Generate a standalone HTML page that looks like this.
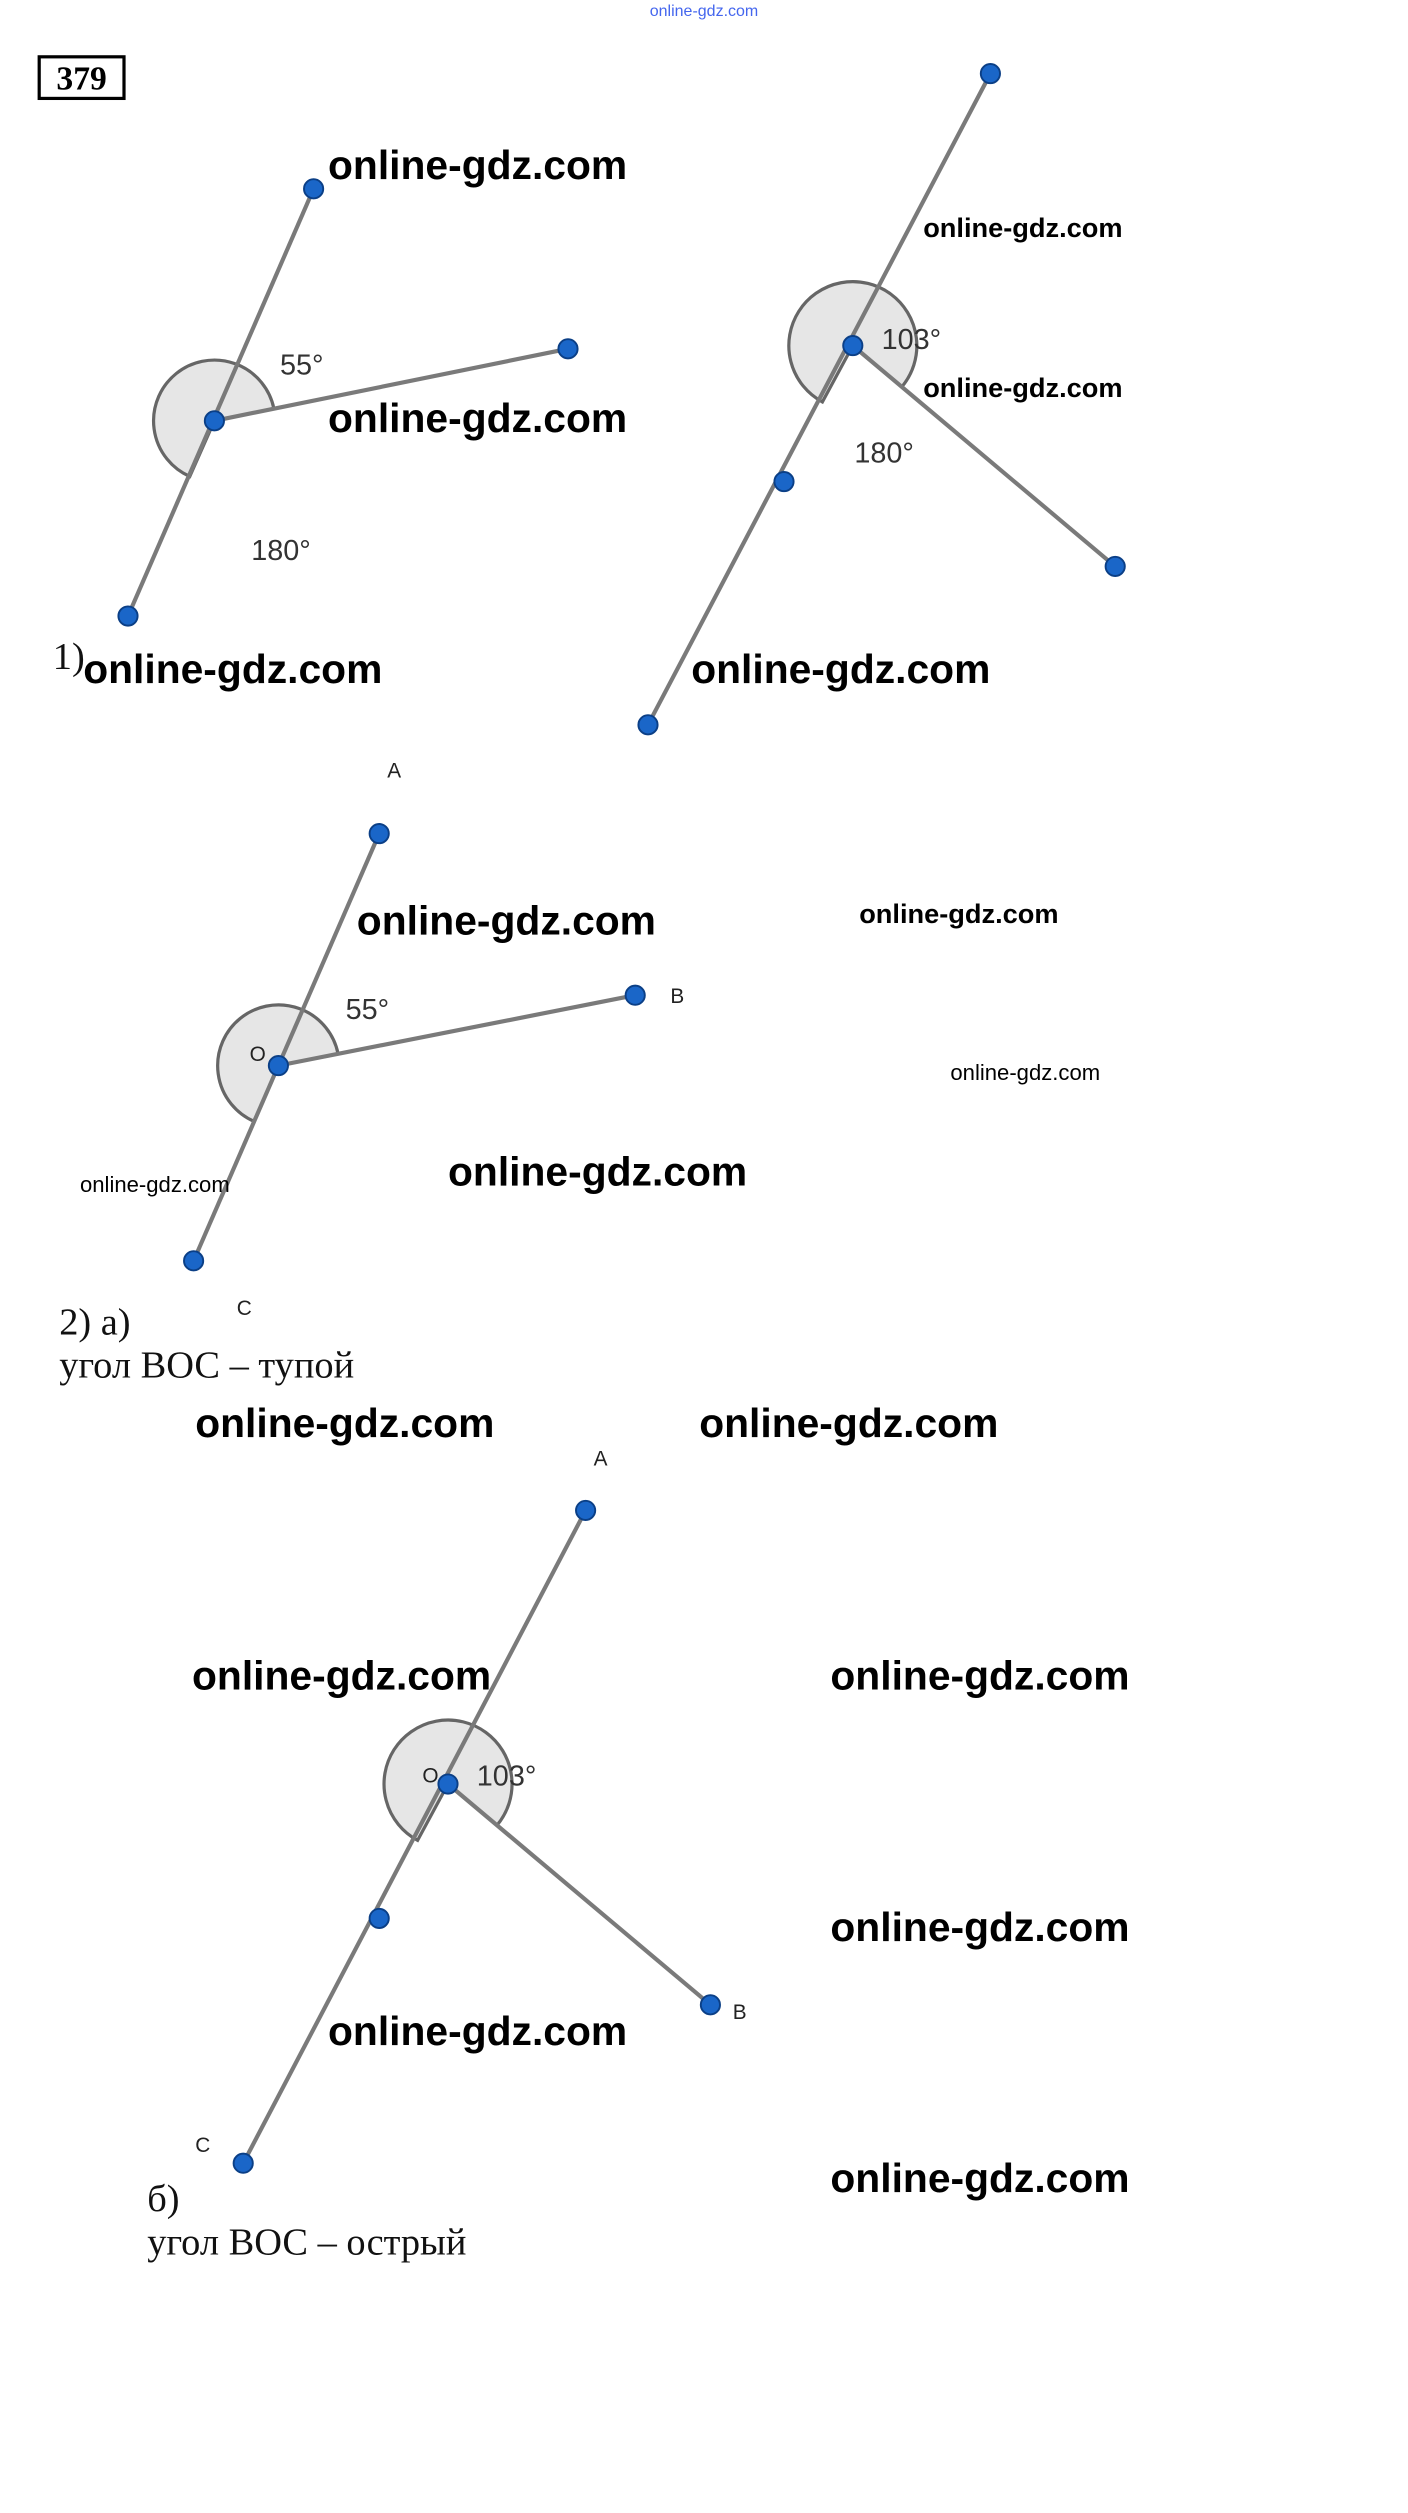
<!DOCTYPE html>
<html><head><meta charset="utf-8"><style>
html,body{margin:0;padding:0;background:#fff;}
svg{display:block;}
.wm{font-family:"Liberation Sans",sans-serif;font-weight:bold;font-size:25.5px;fill:#000;}
.wms{font-family:"Liberation Sans",sans-serif;font-weight:bold;font-size:17px;fill:#000;}
.wmx{font-family:"Liberation Sans",sans-serif;font-size:13.8px;fill:#000;}
.lbl{font-family:"Liberation Sans",sans-serif;font-size:18px;fill:#333;}
.pt{font-family:"Liberation Sans",sans-serif;font-size:13px;fill:#222;}
.ser{font-family:"Liberation Serif","Noto Serif CJK SC",serif;font-size:24px;fill:#111;}
.ln{stroke:#7a7a7a;stroke-width:2.6;fill:none;}
.sec{fill:#e6e6e6;stroke:#666;stroke-width:2;}
.dot{fill:#1a66c8;stroke:#0b3f86;stroke-width:1.2;}
</style></head><body>
<svg width="1408" height="2513" viewBox="0 0 880 1570.6" xmlns="http://www.w3.org/2000/svg">
<text x="440" y="10" text-anchor="middle" font-family="Liberation Sans,sans-serif" font-size="10" fill="#4466ee">online-gdz.com</text>
<rect x="24.5" y="35.5" width="53" height="26" fill="none" stroke="#000" stroke-width="2"/>
<text x="51" y="56" text-anchor="middle" font-family="Liberation Serif,serif" font-weight="bold" font-size="21">379</text>

<!-- Fig 1 -->
<path class="sec" d="M134 263 L171.2 255.4 A38 38 0 1 0 118.6 297.8 Z"/>
<line class="ln" x1="196" y1="118" x2="80" y2="385"/>
<line class="ln" x1="134" y1="263" x2="355" y2="218"/>
<circle class="dot" cx="196" cy="118" r="6"/><circle class="dot" cx="355" cy="218" r="6"/>
<circle class="dot" cx="134" cy="263" r="6"/><circle class="dot" cx="80" cy="385" r="6"/>
<text class="lbl" x="175" y="234">55°</text>
<text class="lbl" x="157" y="350">180°</text>
<text class="wm" x="205" y="112">online-gdz.com</text>
<text class="wm" x="205" y="270">online-gdz.com</text>
<text class="ser" x="33" y="418">1)</text>
<text class="wm" x="52" y="427">online-gdz.com</text>

<!-- Fig 2 -->
<path class="sec" d="M533 216 L563.6 241.8 A40 40 0 1 0 514 251.2 Z"/>
<line class="ln" x1="619" y1="46" x2="405" y2="453"/>
<line class="ln" x1="533" y1="216" x2="697" y2="354"/>
<circle class="dot" cx="619" cy="46" r="6"/><circle class="dot" cx="533" cy="216" r="6"/>
<circle class="dot" cx="490" cy="301" r="6"/><circle class="dot" cx="405" cy="453" r="6"/>
<circle class="dot" cx="697" cy="354" r="6"/>
<text class="lbl" x="551" y="218">103°</text>
<text class="lbl" x="534" y="289">180°</text>
<text class="wms" x="577" y="148">online-gdz.com</text>
<text class="wms" x="577" y="248">online-gdz.com</text>
<text class="wm" x="432" y="427">online-gdz.com</text>

<!-- Fig 3 -->
<path class="sec" d="M174 666 L211.3 658.6 A38 38 0 1 0 158.9 700.9 Z"/>
<line class="ln" x1="237" y1="521" x2="121" y2="788"/>
<line class="ln" x1="174" y1="666" x2="397" y2="622"/>
<circle class="dot" cx="237" cy="521" r="6"/><circle class="dot" cx="397" cy="622" r="6"/>
<circle class="dot" cx="174" cy="666" r="6"/><circle class="dot" cx="121" cy="788" r="6"/>
<text class="lbl" x="216" y="637">55°</text>
<text class="pt" x="156" y="663">O</text>
<text class="pt" x="242" y="486">A</text>
<text class="pt" x="419" y="627">B</text>
<text class="pt" x="148" y="822">C</text>
<text class="wm" x="223" y="584">online-gdz.com</text>
<text class="wm" x="280" y="741">online-gdz.com</text>
<text class="wms" x="537" y="577">online-gdz.com</text>
<text class="wmx" x="594" y="675">online-gdz.com</text>
<text class="wmx" x="50" y="745">online-gdz.com</text>
<text class="ser" x="37" y="834">2) а)</text>
<text class="ser" x="37" y="861">угол ВОС – тупой</text>

<!-- Fig 4 -->
<path class="sec" d="M280 1115 L310.6 1140.8 A40 40 0 1 0 261 1150.2 Z"/>
<line class="ln" x1="366" y1="944" x2="152" y2="1352"/>
<line class="ln" x1="280" y1="1115" x2="444" y2="1253"/>
<circle class="dot" cx="366" cy="944" r="6"/><circle class="dot" cx="280" cy="1115" r="6"/>
<circle class="dot" cx="237" cy="1199" r="6"/><circle class="dot" cx="152" cy="1352" r="6"/>
<circle class="dot" cx="444" cy="1253" r="6"/>
<text class="lbl" x="298" y="1116">103°</text>
<text class="pt" x="264" y="1114">O</text>
<text class="pt" x="371" y="916">A</text>
<text class="pt" x="458" y="1262">B</text>
<text class="pt" x="122" y="1345">C</text>
<text class="wm" x="122" y="898">online-gdz.com</text>
<text class="wm" x="437" y="898">online-gdz.com</text>
<text class="wm" x="120" y="1056">online-gdz.com</text>
<text class="wm" x="519" y="1056">online-gdz.com</text>
<text class="wm" x="519" y="1213">online-gdz.com</text>
<text class="wm" x="205" y="1278">online-gdz.com</text>
<text class="wm" x="519" y="1370">online-gdz.com</text>
<text class="ser" x="92" y="1382">б)</text>
<text class="ser" x="92" y="1409">угол ВОС – острый</text>
</svg>
</body></html>
